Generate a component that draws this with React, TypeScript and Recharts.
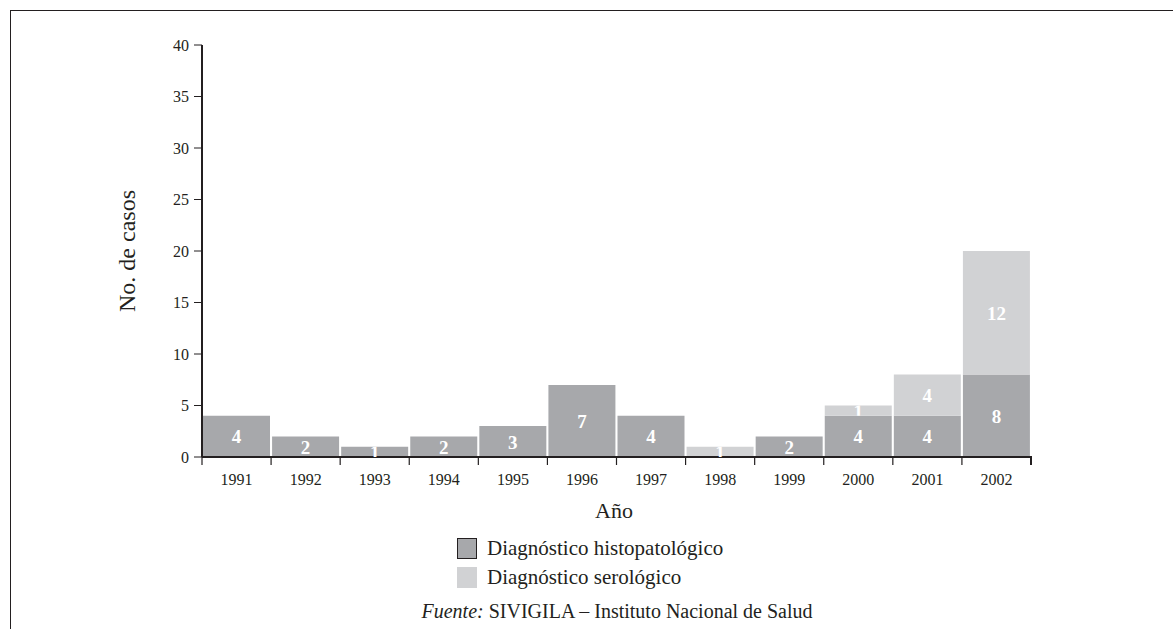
import { BarChart, Bar, XAxis, YAxis, LabelList } from "recharts";

const years = ["1991", "1992", "1993", "1994", "1995", "1996", "1997", "1998", "1999", "2000", "2001", "2002"];
const histopatologico = [4, 2, 1, 2, 3, 7, 4, 0, 2, 4, 4, 8];
const serologico = [0, 0, 0, 0, 0, 0, 0, 1, 0, 1, 4, 12];
const yTicks = [0, 5, 10, 15, 20, 25, 30, 35, 40];

const data = years.map((year, i) => ({
  year,
  hist: histopatologico[i],
  sero: serologico[i],
}));

const W = 1173;
const H = 629;
const Y_AXIS_W = 60;
const X_AXIS_H = 30;
// plot area: x 202..1031, y 45..457
const margin = { top: 45, right: 142, bottom: 172 - X_AXIS_H, left: 202 - Y_AXIS_W };
const plotWidth = 1031 - 202;
const band = plotWidth / years.length;

const DARK = "#a7a8ab";
const LIGHT = "#d1d2d4";
const INK = "#231f20";
const SERIF = "'Liberation Serif', 'Times New Roman', serif";

const YearTick = (props: any) => {
  const { x, y, payload, index } = props;
  const left = x - band / 2;
  return (
    <g>
      <line x1={left} y1={y} x2={left} y2={y + 8} stroke={INK} strokeWidth={1.2} />
      {index === years.length - 1 && (
        <line x1={x + band / 2} y1={y - 1} x2={x + band / 2} y2={y + 8} stroke={INK} strokeWidth={2} />
      )}
      <text x={x} y={y + 28} textAnchor="middle" fontFamily={SERIF} fontSize={16} fill={INK}>
        {payload.value}
      </text>
    </g>
  );
};

let clipCount = 0;
const BarValue = (props: any) => {
  const { x, y, width, height, value } = props;
  if (!value) return null;
  const id = `lbl-clip-${clipCount++}`;
  return (
    <g>
      <clipPath id={id}>
        <rect x={x} y={y} width={width} height={height} />
      </clipPath>
      <text
        x={x + width / 2}
        y={y + height / 2 + 7}
        textAnchor="middle"
        fontFamily={SERIF}
        fontWeight="bold"
        fontSize={19}
        fill="#ffffff"
        clipPath={`url(#${id})`}
      >
        {value}
      </text>
    </g>
  );
};

const App = () => {
  return (
    <div style={{ position: "absolute", left: 0, top: 0, width: W, height: H, overflow: "hidden", background: "#fff", fontFamily: SERIF, color: INK }}>
      <div style={{ position: "absolute", left: 10, top: 10, width: 1300, height: 800, border: `1.5px solid ${INK}` }} />
      <BarChart width={W} height={H} data={data} margin={margin} barCategoryGap={1}>
        <XAxis
          dataKey="year"
          height={X_AXIS_H}
          tickLine={false}
          tickSize={0}
          tickMargin={0}
          axisLine={{ stroke: INK, strokeWidth: 2 }}
          tick={<YearTick />}
          interval={0}
        />
        <YAxis
          width={Y_AXIS_W}
          domain={[0, 40]}
          ticks={yTicks}
          interval={0}
          tickSize={8}
          tickMargin={5}
          axisLine={{ stroke: INK, strokeWidth: 2 }}
          tickLine={{ stroke: INK, strokeWidth: 1 }}
          tick={{ fontFamily: SERIF, fontSize: 16, fill: INK }}
        />
        <Bar dataKey="hist" stackId="a" fill={DARK} isAnimationActive={false}>
          <LabelList dataKey="hist" content={<BarValue />} />
        </Bar>
        <Bar dataKey="sero" stackId="a" fill={LIGHT} isAnimationActive={false}>
          <LabelList dataKey="sero" content={<BarValue />} />
        </Bar>
      </BarChart>
      <div style={{ position: "absolute", left: 127, top: 251, transform: "translate(-50%, -50%) rotate(-90deg)", fontSize: 24, whiteSpace: "nowrap" }}>
        No. de casos
      </div>
      <div style={{ position: "absolute", left: 614, top: 511, transform: "translate(-50%, -50%)", fontSize: 22, whiteSpace: "nowrap" }}>
        Año
      </div>
      <div style={{ position: "absolute", left: 457, top: 534, fontSize: 21, lineHeight: "29px" }}>
        <div style={{ display: "flex", alignItems: "center", height: 29 }}>
          <span style={{ display: "inline-block", width: 18, height: 19, background: DARK, border: `1.2px solid ${INK}`, marginRight: 10 }} />
          Diagnóstico histopatológico
        </div>
        <div style={{ display: "flex", alignItems: "center", height: 29 }}>
          <span style={{ display: "inline-block", width: 20, height: 21, background: LIGHT, marginRight: 10 }} />
          Diagnóstico serológico
        </div>
      </div>
      <div style={{ position: "absolute", left: 617, top: 611, transform: "translate(-50%, -50%)", fontSize: 20, whiteSpace: "nowrap" }}>
        <i>Fuente:</i> SIVIGILA – Instituto Nacional de Salud
      </div>
    </div>
  );
};

export default App;
